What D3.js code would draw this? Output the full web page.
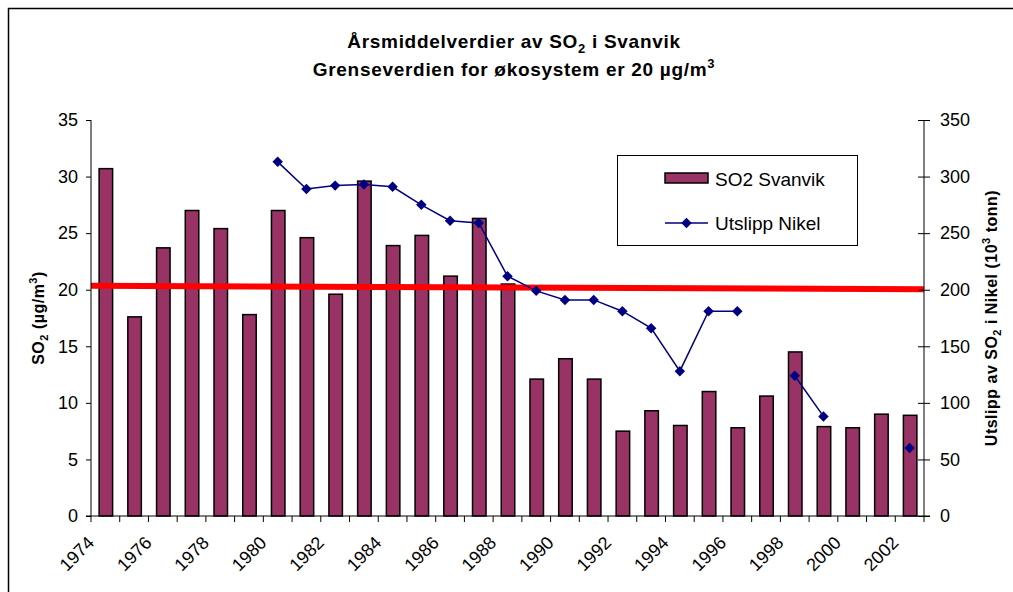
<!DOCTYPE html>
<html>
<head>
<meta charset="utf-8">
<script src="https://cdn.jsdelivr.net/npm/d3@7"></script>
<style>
  body { margin: 0; background: #fff; }
  svg { font-family: "Liberation Sans", Arial, sans-serif; }
  .axis text { font-size: 18px; fill: #000; }
  .axis path, .axis line { stroke: #000; }
</style>
</head>
<body>
<svg id="chart" width="1013" height="592"></svg>
<script>
'use strict';

// years on the category axis
const years = d3.range(1974, 2003);
// annual mean SO2 at Svanvik (µg/m3), left axis
const so2_svanvik = [30.7, 17.6, 23.7, 27.0, 25.4, 17.8, 27.0, 24.6, 19.6, 29.6,
                     23.9, 24.8, 21.2, 26.3, 20.5, 12.1, 13.9, 12.1, 7.5, 9.3,
                     8.0, 11.0, 7.8, 10.6, 14.5, 7.9, 7.8, 9.0, 8.9];
// SO2 emission in Nikel (10^3 tonn), right axis; null = no value
const utslipp_nikel = [null, null, null, null, null, null, 313, 289, 292, 293,
                       291, 275, 261, 259, 212, 199, 191, 191, 181, 166,
                       128, 181, 181, null, 124, 88, null, null, 60];
// limit line drawn across the plot (start, end), left axis
const limit_line = [20.35, 20.05];
const left_ticks = d3.range(0, 36, 5);
const right_ticks = d3.range(0, 351, 50);
const label_years = years.filter(y => y % 2 === 0);

const margin = {top: 120, left: 91, right: 89, bottom: 76};
const width = 1013, height = 592;
const plot_w = width - margin.left - margin.right;
const plot_h = height - margin.top - margin.bottom;

const svg = d3.select('#chart');

// outer frame
svg.append('rect')
    .attr('x', 8.5).attr('y', 8.5)
    .attr('width', width + 10).attr('height', height + 10)
    .attr('fill', 'none').attr('stroke', '#000').attr('stroke-width', 1.5);

const x = d3.scaleBand().domain(years).range([0, plot_w]).paddingInner(0).paddingOuter(0);
const yL = d3.scaleLinear().domain([0, 35]).range([plot_h, 0]);
const yR = d3.scaleLinear().domain([0, 350]).range([plot_h, 0]);

const g = svg.append('g').attr('transform', `translate(${margin.left},${margin.top})`);

// bars
const bar_w = x.bandwidth() * 0.47;
g.selectAll('.bar').data(years.map((yr, i) => [yr, so2_svanvik[i]]))
    .join('rect')
    .attr('class', 'bar')
    .attr('x', d => x(d[0]) + (x.bandwidth() - bar_w) / 2 + 0.5)
    .attr('y', d => yL(d[1]))
    .attr('width', bar_w)
    .attr('height', d => plot_h - yL(d[1]))
    .attr('fill', '#993366')
    .attr('stroke', '#000')
    .attr('stroke-width', 1.5);

// limit line
g.append('line')
    .attr('x1', 0).attr('x2', plot_w)
    .attr('y1', yL(limit_line[0])).attr('y2', yL(limit_line[1]))
    .attr('stroke', '#ff0000').attr('stroke-width', 6);

// emission line
const pts = years.map((yr, i) => [yr, utslipp_nikel[i]]);
const line = d3.line()
    .defined(d => d[1] != null)
    .x(d => x(d[0]) + x.bandwidth() / 2)
    .y(d => yR(d[1]));
g.append('path').datum(pts)
    .attr('d', line)
    .attr('fill', 'none').attr('stroke', '#000080').attr('stroke-width', 1.5);

const diamond = d3.symbol().type(d3.symbolDiamond2).size(70);
g.selectAll('.pt').data(pts.filter(d => d[1] != null))
    .join('path')
    .attr('class', 'pt')
    .attr('d', diamond)
    .attr('transform', d => `translate(${x(d[0]) + x.bandwidth() / 2},${yR(d[1])})`)
    .attr('fill', '#000080');

// left axis
const left_axis = g.append('g').attr('class', 'axis')
    .call(d3.axisLeft(yL).tickValues(left_ticks).tickSize(5).tickPadding(8).tickSizeOuter(0));
left_axis.select('.domain').attr('d', `M0,${plot_h}V0`);

// right axis, ticks cross the line
const right_axis = g.append('g').attr('class', 'axis')
    .attr('transform', `translate(${plot_w},0)`)
    .call(d3.axisRight(yR).tickValues(right_ticks).tickSize(6).tickPadding(10).tickSizeOuter(0));
right_axis.selectAll('.tick line').attr('x1', -6);
right_axis.select('.domain').attr('d', `M0,${plot_h}V0`);

// bottom axis: ticks at band edges, labels at every other year
const xb = g.append('g').attr('class', 'axis').attr('transform', `translate(0,${plot_h})`);
xb.append('line').attr('x1', -5).attr('x2', plot_w + 6).attr('stroke', '#000');
xb.selectAll('.edge').data(years.concat([null]))
    .join('line')
    .attr('class', 'edge')
    .attr('x1', (d, i) => i * x.bandwidth()).attr('x2', (d, i) => i * x.bandwidth())
    .attr('y1', 0).attr('y2', 6)
    .attr('stroke', '#000');
xb.selectAll('.lab').data(label_years)
    .join('text')
    .attr('class', 'lab')
    .attr('transform', d => `translate(${x(d) + x.bandwidth() / 2 - 19},${19}) rotate(-45)`)
    .attr('text-anchor', 'end')
    .attr('dy', '0.7em')
    .text(d => d);

// axis titles
const lt = svg.append('text')
    .attr('transform', `translate(44,${margin.top + plot_h / 2}) rotate(-90)`)
    .attr('text-anchor', 'middle')
    .attr('font-size', 16).attr('font-weight', 'bold').attr('letter-spacing', 0.5);
lt.append('tspan').text('SO');
lt.append('tspan').attr('font-size', 11).attr('dy', 4).text('2');
lt.append('tspan').attr('dy', -4).text(' (µg/m');
lt.append('tspan').attr('font-size', 11).attr('dy', -7).text('3');
lt.append('tspan').attr('dy', 7).text(')');

const rt = svg.append('text')
    .attr('transform', `translate(997,${margin.top + plot_h / 2}) rotate(-90)`)
    .attr('text-anchor', 'middle')
    .attr('font-size', 16).attr('font-weight', 'bold').attr('letter-spacing', 0.5);
rt.append('tspan').text('Utslipp av SO');
rt.append('tspan').attr('font-size', 11).attr('dy', 4).text('2');
rt.append('tspan').attr('dy', -4).text(' i Nikel (10');
rt.append('tspan').attr('font-size', 11).attr('dy', -7).text('3');
rt.append('tspan').attr('dy', 7).text(' tonn)');

// title
const t1 = svg.append('text')
    .attr('x', 514).attr('y', 48)
    .attr('text-anchor', 'middle').attr('font-size', 19).attr('font-weight', 'bold')
    .attr('letter-spacing', 0.7);
t1.append('tspan').text('Årsmiddelverdier av SO');
t1.append('tspan').attr('font-size', 13).attr('dy', 5).text('2');
t1.append('tspan').attr('dy', -5).text(' i Svanvik');

const t2 = svg.append('text')
    .attr('x', 514).attr('y', 76)
    .attr('text-anchor', 'middle').attr('font-size', 19).attr('font-weight', 'bold')
    .attr('letter-spacing', 0.7);
t2.append('tspan').text('Grenseverdien for økosystem er 20 µg/m');
t2.append('tspan').attr('font-size', 13).attr('dy', -8).text('3');

// legend
const leg = svg.append('g').attr('transform', 'translate(617,155)');
leg.append('rect').attr('x', 0.5).attr('y', 0.5).attr('width', 240).attr('height', 90)
    .attr('fill', '#fff').attr('stroke', '#000');
leg.append('rect').attr('x', 48).attr('y', 18).attr('width', 43).attr('height', 10)
    .attr('fill', '#993366').attr('stroke', '#000').attr('stroke-width', 1.5);
leg.append('text').attr('x', 98).attr('y', 31).attr('font-size', 19).text('SO2 Svanvik');
leg.append('line').attr('x1', 48).attr('x2', 91).attr('y1', 68).attr('y2', 68)
    .attr('stroke', '#000080').attr('stroke-width', 1.5);
leg.append('path').attr('d', diamond).attr('transform', 'translate(69.5,68)').attr('fill', '#000080');
leg.append('text').attr('x', 98).attr('y', 75).attr('font-size', 19).text('Utslipp Nikel');
</script>
</body>
</html>
